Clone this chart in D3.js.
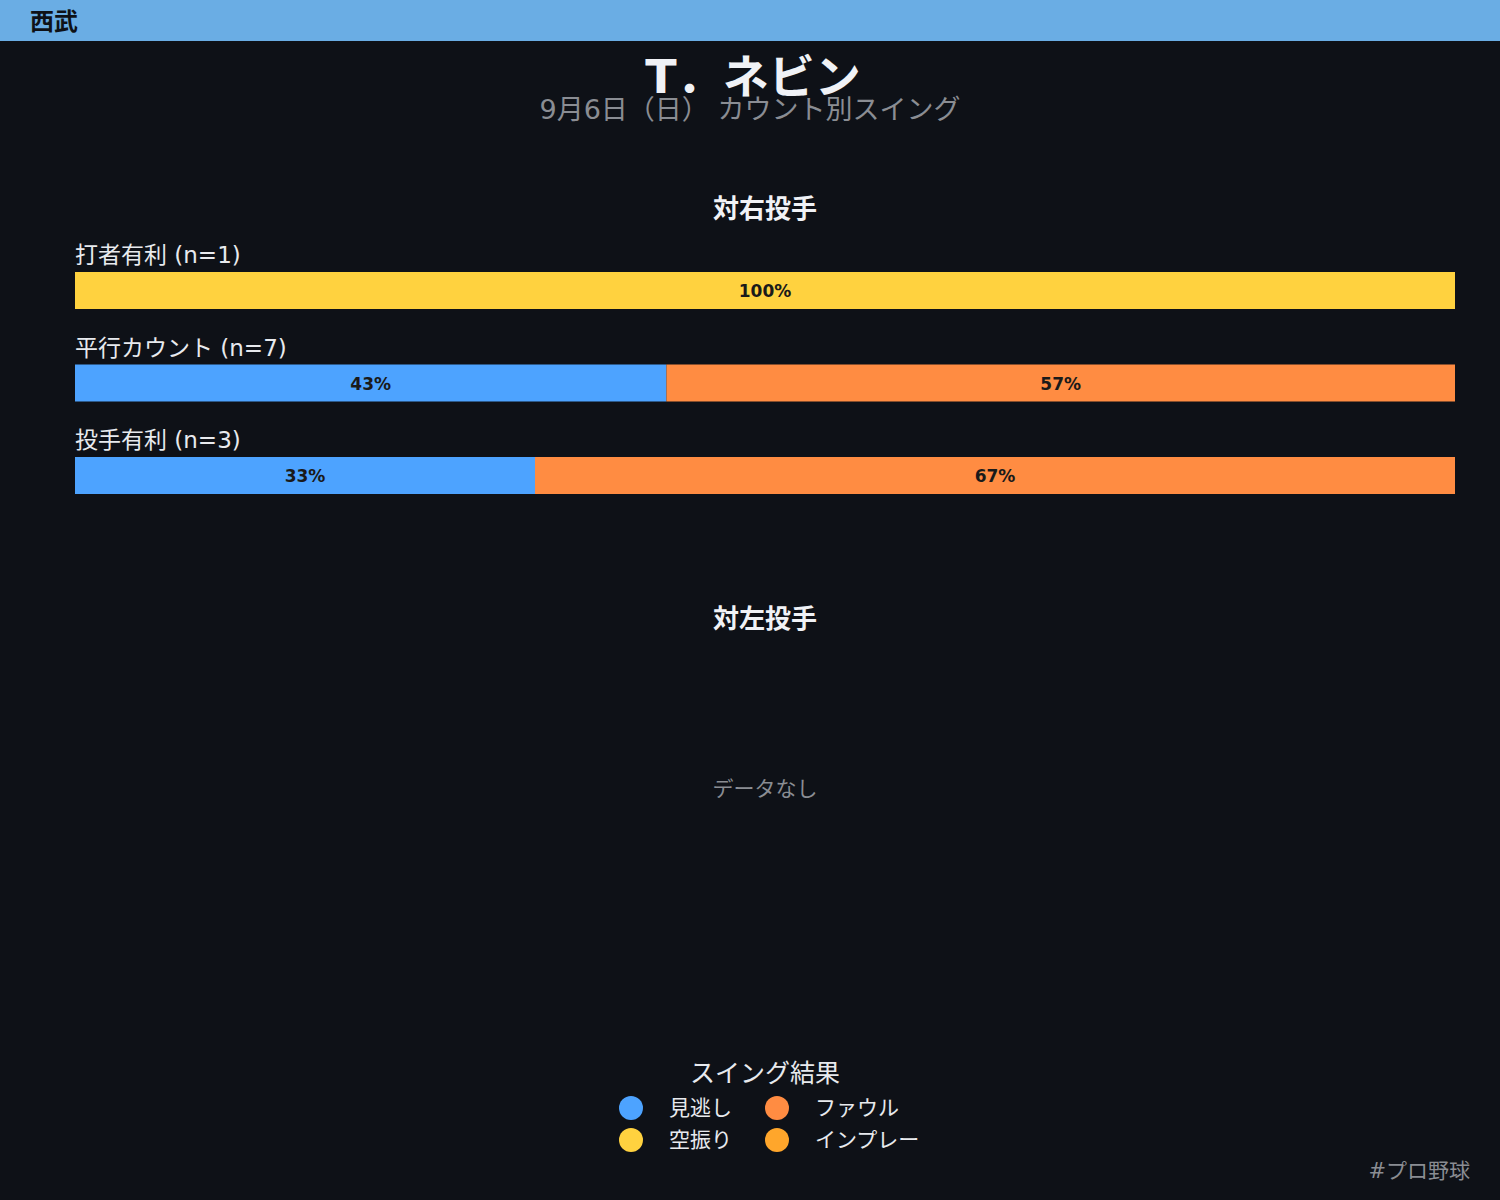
<!DOCTYPE html>
<html>
<head>
<meta charset="utf-8">
<script src="https://cdn.jsdelivr.net/npm/d3@7"></script>
<style>
  body { margin: 0; background: #0e1117; }
  text { font-family: "DejaVu Sans", "Noto Sans CJK JP", sans-serif; }
</style>
</head>
<body>
<div id="chart"></div>
<script>
const team = "西武";
const player = "T．ネビン";
const subtitle = "9月6日（日） カウント別スイング";

const results = ["見逃し", "空振り", "ファウル", "インプレー"];
const resultColors = ["#4da3ff", "#ffd23f", "#ff8c42", "#ffa62b"];

const countLabels = ["打者有利", "平行カウント", "投手有利"];
// counts per result (見逃し, 空振り, ファウル, インプレー)
const vsRight = [
  [0, 1, 0, 0],
  [3, 0, 4, 0],
  [1, 0, 2, 0]
];
const vsLeft = [];

const width = 1500, height = 1200;
const margin = { left: 75, right: 45 };

const svg = d3.select("#chart").append("svg")
  .attr("width", width)
  .attr("height", height);

svg.append("rect").attr("width", width).attr("height", height).attr("fill", "#0e1117");

// header band
svg.append("rect").attr("width", width).attr("height", 41).attr("fill", "#6aade4");
svg.append("text").attr("x", 30).attr("y", 30)
  .attr("font-size", 24).attr("font-weight", "bold").attr("fill", "#0e1117")
  .text(team);

// titles
svg.append("text").attr("x", 753).attr("y", 93)
  .attr("text-anchor", "middle").attr("font-size", 46).attr("font-weight", "bold")
  .attr("fill", "#f0f2f6").text(player);
svg.append("text").attr("x", 750).attr("y", 119)
  .attr("text-anchor", "middle").attr("font-size", 27).attr("fill", "#8a8d93")
  .text(subtitle);

const x = d3.scaleLinear().domain([0, 1]).range([margin.left, width - margin.right]);
const cx = (x(0) + x(1)) / 2;

function panel(title, titleY, data, top) {
  svg.append("text").attr("x", cx).attr("y", titleY)
    .attr("text-anchor", "middle").attr("font-size", 26).attr("font-weight", "bold")
    .attr("fill", "#f0f2f6").text(title);

  if (data.length === 0) {
    svg.append("text").attr("x", cx).attr("y", top + 173)
      .attr("text-anchor", "middle").attr("font-size", 21).attr("fill", "#8a8d93")
      .text("データなし");
    return;
  }

  const y = d3.scaleBand().domain(countLabels)
    .range([top, top + 92.5 * countLabels.length]).paddingInner(0);

  countLabels.forEach((lab, i) => {
    const row = data[i];
    const n = d3.sum(row);
    const y0 = y(lab) + 35;
    const g = svg.append("g");
    g.append("text").attr("x", x(0)).attr("y", y0 - 9)
      .attr("font-size", 23).attr("fill", "#e8eaee")
      .text(`${lab} (n=${n})`);

    let acc = 0;
    const segs = row.map((v, k) => {
      const s = { k, start: acc / n, end: (acc + v) / n, v };
      acc += v;
      return s;
    }).filter(s => s.v > 0);

    g.selectAll("rect").data(segs).join("rect")
      .attr("x", d => x(d.start))
      .attr("y", y0)
      .attr("width", d => x(d.end) - x(d.start))
      .attr("height", 37)
      .attr("fill", d => resultColors[d.k]);

    g.selectAll("text.pct").data(segs).join("text")
      .attr("class", "pct")
      .attr("x", d => (x(d.start) + x(d.end)) / 2)
      .attr("y", y0 + 25)
      .attr("text-anchor", "middle")
      .attr("font-size", 17).attr("font-weight", "bold").attr("fill", "#1a1a1a")
      .text(d => Math.round(100 * d.v / n) + "%");
  });
}

panel("対右投手", 218, vsRight, 237);
panel("対左投手", 628, vsLeft, 623);

// legend
svg.append("text").attr("x", 765).attr("y", 1082)
  .attr("text-anchor", "middle").attr("font-size", 25).attr("fill", "#e8eaee")
  .text("スイング結果");

const lg = svg.append("g").selectAll("g").data(d3.range(results.length)).join("g")
  .attr("transform", (d, i) => `translate(${631 + Math.floor(i / 2) * 146},${1108 + (i % 2) * 32})`);
lg.append("circle").attr("r", 12).attr("fill", d => resultColors[d]);
lg.append("text").attr("x", 38).attr("y", 7)
  .attr("font-size", 21).attr("fill", "#e8eaee")
  .text(d => results[d]);

// footer
svg.append("text").attr("x", 1470).attr("y", 1178)
  .attr("text-anchor", "end").attr("font-size", 21).attr("fill", "#8a8d93")
  .text("#プロ野球");
</script>
</body>
</html>
